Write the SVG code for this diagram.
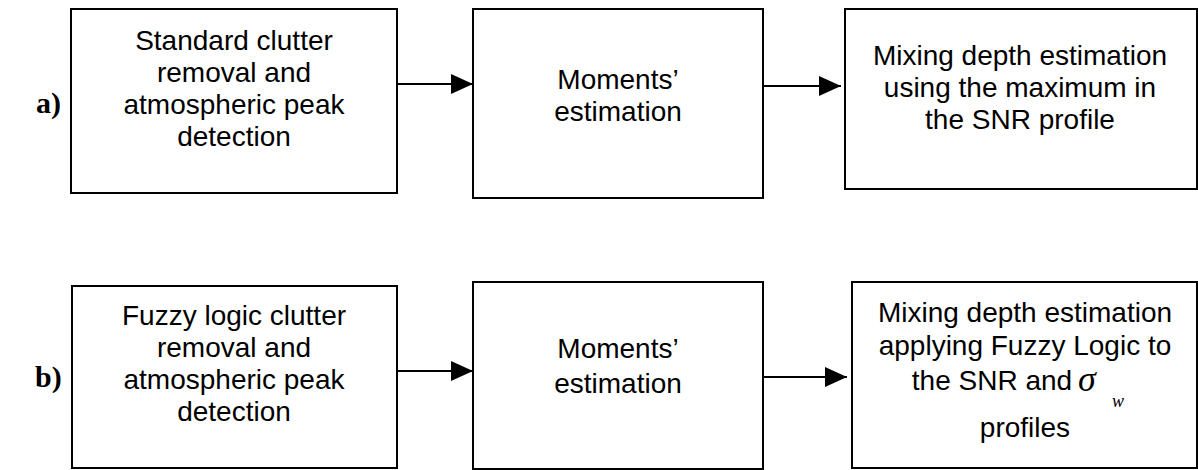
<svg xmlns="http://www.w3.org/2000/svg" width="1198" height="470" viewBox="0 0 1198 470">
<style>
.box{fill:#fff;stroke:#000;stroke-width:2}
.t{font-family:"Liberation Sans",Arial,sans-serif;font-size:28px;fill:#000;text-anchor:middle}
.lbl{font-family:"Liberation Serif","Times New Roman",serif;font-size:30px;font-weight:bold;fill:#000}
.conn{stroke:#000;stroke-width:2;fill:none}
.greek{font-family:"Liberation Serif","Times New Roman",serif;font-style:italic;fill:#000}
</style>
<defs>
<marker id="ah" markerWidth="11" markerHeight="10" refX="11" refY="5" orient="auto" markerUnits="strokeWidth">
<path d="M0,0 L11,5 L0,10 z" fill="#000"/>
</marker>
</defs>
<rect width="1198" height="470" fill="#fff"/>
<text class="lbl" x="36" y="113">a)</text>
<text class="lbl" x="35" y="387">b)</text>
<g id="a1">
<rect class="box" x="71" y="9" width="326" height="184"/>
<text class="t" x="234" y="50">Standard clutter</text>
<text class="t" x="234" y="82">removal and</text>
<text class="t" x="234" y="114">atmospheric peak</text>
<text class="t" x="234" y="146">detection</text>
</g>
<g id="a2">
<rect class="box" x="473" y="9" width="290" height="189"/>
<text class="t" x="618" y="89">Moments’</text>
<text class="t" x="618" y="121">estimation</text>
</g>
<g id="a3">
<rect class="box" x="845" y="9" width="352" height="180"/>
<text class="t" x="1020" y="65">Mixing depth estimation</text>
<text class="t" x="1020" y="97">using the maximum in</text>
<text class="t" x="1020" y="129">the SNR profile</text>
</g>
<g id="b1">
<rect class="box" x="72" y="286" width="325" height="182"/>
<text class="t" x="234" y="325">Fuzzy logic clutter</text>
<text class="t" x="234" y="357">removal and</text>
<text class="t" x="234" y="389">atmospheric peak</text>
<text class="t" x="234" y="421">detection</text>
</g>
<g id="b2">
<rect class="box" x="473" y="282" width="290" height="187"/>
<text class="t" x="618" y="358">Moments’</text>
<text class="t" x="618" y="393">estimation</text>
</g>
<g id="b3">
<rect class="box" x="852" y="282" width="345" height="186"/>
<text class="t" x="1025" y="322">Mixing depth estimation</text>
<text class="t" x="1025" y="355">applying Fuzzy Logic to</text>
<text class="t" x="992" y="390" font-size="25">the SNR and</text>
<text class="greek" x="1078" y="391" font-size="36">σ</text>
<text class="greek" x="1112" y="407" font-size="18">w</text>
<text class="t" x="1025" y="437">profiles</text>
</g>
<g id="connectors">
<line class="conn" x1="397" y1="84" x2="473" y2="84" marker-end="url(#ah)"/>
<line class="conn" x1="763" y1="86" x2="841" y2="86" marker-end="url(#ah)"/>
<line class="conn" x1="397" y1="371" x2="473" y2="371" marker-end="url(#ah)"/>
<line class="conn" x1="763" y1="377" x2="847" y2="377" marker-end="url(#ah)"/>
</g>
</svg>
